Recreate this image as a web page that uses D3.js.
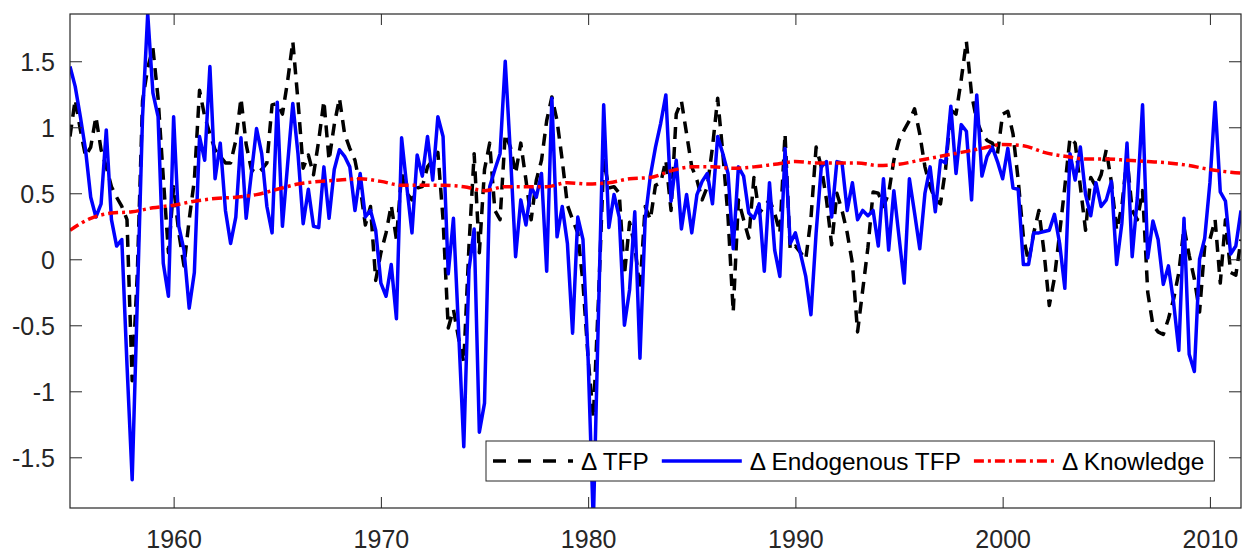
<!DOCTYPE html>
<html>
<head>
<meta charset="utf-8">
<script src="https://cdn.jsdelivr.net/npm/d3@7"></script>
<style>
  body { margin: 0; background: #fff; }
  text { font-family: "Liberation Sans", Arial, Helvetica, sans-serif; }
</style>
</head>
<body>
<script>
// quarterly series, first quarter = 1955.0
const startYear = 1955;
const quarterStep = 0.25;

const tfp = [
  0.93, 1.21, 0.98, 0.78, 0.85, 1.08, 0.83, 0.70, 0.55, 0.47,
  0.40, 0.30, -0.92, -0.10, 1.20, 1.45, 1.60, 1.22, 0.62, 0.05,
  0.55, 0.20, -0.05, 0.30, 0.60, 1.28, 1.08, 0.95, 0.83, 0.78,
  0.73, 0.73, 0.90, 1.22, 0.87, 0.68, 0.65, 0.68, 0.73, 1.17,
  1.18, 1.10, 1.35, 1.65, 1.20, 0.69, 0.79, 0.64, 0.90, 1.20,
  0.75, 1.02, 1.22, 0.95, 0.84, 0.75, 0.55, 0.26, 0.40, -0.16,
  0.05, 0.20, 0.41, 0.15, 0.65, 0.50, 0.45, 0.54, 0.55, 0.70,
  0.75, 0.81, 0.30, -0.52, -0.38, -0.60, -0.78, 0.10, 0.80, 0.05,
  0.68, 0.88, 0.37, 0.30, 0.95, 0.85, 0.65, 0.88, 0.60, 0.30,
  0.60, 0.75, 1.05, 1.23, 1.05, 0.75, 0.41, 0.30, 0.20, -0.18,
  -0.75, -1.20, -0.30, 0.75, 0.54, 0.55, 0.50, -0.12, 0.28, 0.10,
  -0.23, 0.40, 0.30, 0.56, 0.58, 0.75, 0.37, 1.10, 1.20, 0.95,
  0.70, 0.60, 0.45, 0.55, 0.85, 1.22, 0.80, 0.32, -0.40, 0.45,
  0.30, 0.16, 0.62, 0.35, 0.40, 0.45, 0.35, 0.20, 0.95, 0.07,
  0.10, 0.05, 0.00, 0.31, 0.85, 0.70, 0.45, 0.11, 0.50, 0.37,
  0.20, -0.03, -0.55, -0.23, 0.09, 0.51, 0.50, 0.40, 0.50, 0.75,
  0.90, 0.98, 1.05, 1.14, 0.95, 0.70, 0.55, 0.45, 0.42, 0.69,
  1.13, 1.10, 1.36, 1.65, 1.25, 1.05, 0.95, 0.90, 0.88, 0.80,
  1.10, 1.12, 0.95, 0.60, 0.17, -0.02, 0.20, 0.37, 0.05, -0.35,
  -0.14, 0.20, 0.55, 0.92, 0.88, 0.55, 0.22, 0.62, 0.55, 0.64,
  0.83, 0.58, 0.22, 0.40, 0.77, 0.37, 0.30, 0.52, -0.25, -0.50,
  -0.55, -0.57, -0.45, -0.30, -0.10, 0.24, 0.03, -0.15, -0.40, 0.10,
  0.15, 0.30, -0.18, 0.30, -0.10, -0.12, 0.15
];

const endoTFP = [
  1.46, 1.31, 1.08, 0.83, 0.47, 0.32, 0.42, 0.98, 0.30, 0.10,
  0.15, -0.80, -1.67, -0.30, 1.08, 1.86, 1.26, 1.08, -0.03, -0.28,
  1.08, 0.25, 0.07, -0.37, -0.10, 0.93, 0.75, 1.46, 0.61, 0.88,
  0.37, 0.12, 0.32, 0.92, 0.31, 0.65, 0.99, 0.80, 0.40, 0.20,
  1.19, 0.25, 0.72, 1.18, 0.80, 0.27, 0.53, 0.25, 0.24, 0.70,
  0.31, 0.68, 0.83, 0.78, 0.70, 0.37, 0.65, 0.32, 0.37, 0.22,
  -0.18, -0.28, -0.04, -0.45, 0.92, 0.55, 0.20, 0.79, 0.63, 0.93,
  0.60, 1.08, 0.93, -0.11, 0.31, -0.54, -1.42, -0.08, 0.23, -1.31,
  -1.09, 0.55, 0.68, 0.80, 1.50, 0.80, 0.02, 0.45, 0.26, 0.55,
  0.47, 0.65, -0.09, 1.22, 0.17, 0.40, 0.12, -0.56, 0.32, 0.15,
  -0.76, -2.00, -0.40, 1.17, 0.24, 0.49, 0.32, -0.50, -0.23, 0.36,
  -0.75, 0.30, 0.63, 0.85, 1.03, 1.245, 0.44, 0.75, 0.23, 0.49,
  0.20, 0.49, 0.59, 0.65, 0.42, 0.93, 0.80, 0.65, 0.08, 0.70,
  0.63, 0.35, 0.31, 0.42, -0.09, 0.58, 0.07, -0.13, 0.84, 0.12,
  0.20, 0.04, -0.13, -0.42, 0.20, 0.70, 0.74, 0.32, 0.74, 0.73,
  0.37, 0.58, 0.30, 0.37, 0.33, 0.37, 0.10, 0.61, 0.07, 0.52,
  0.17, -0.18, 0.61, 0.35, 0.08, 0.50, 0.70, 0.36, 0.75, 0.73,
  1.16, 0.65, 1.02, 0.97, 0.45, 1.245, 0.63, 0.78, 0.85, 0.74,
  0.61, 0.84, 0.54, 0.53, -0.04, -0.04, 0.20, 0.20, 0.21, 0.22,
  0.34, 0.12, -0.22, 0.80, 0.60, 0.85, 0.49, 0.33, 0.58, 0.40,
  0.45, 0.59, -0.04, 0.27, 0.88, 0.02, 0.47, 1.17, 0.01, 0.29,
  0.15, -0.19, -0.05, -0.33, -0.69, 0.31, -0.72, -0.85, 0.00, 0.16,
  0.58, 1.19, 0.51, 0.44, 0.04, 0.10, 0.37
];

// knowledge growth, read once per year (1955 ... 2012)
const knowledgeStart = 1955;
const knowledge = [
  0.22, 0.31, 0.35, 0.36, 0.39, 0.41, 0.44, 0.46, 0.47, 0.49,
  0.53, 0.57, 0.59, 0.60, 0.61, 0.59, 0.56, 0.56, 0.56, 0.55,
  0.52, 0.55, 0.55, 0.55, 0.58, 0.57, 0.58, 0.61, 0.62, 0.67,
  0.70, 0.70, 0.69, 0.70, 0.72, 0.74, 0.73, 0.73, 0.73, 0.71,
  0.72, 0.75, 0.78, 0.81, 0.84, 0.87, 0.86, 0.81, 0.78, 0.76,
  0.76, 0.75, 0.74, 0.73, 0.71, 0.68, 0.66, 0.65
];

const xTicks = [1960, 1970, 1980, 1990, 2000, 2010];
const yTicks = [-1.5, -1, -0.5, 0, 0.5, 1, 1.5];
const seriesNames = ["\u0394 TFP", "\u0394 Endogenous TFP", "\u0394 Knowledge"];

let width = 1244, height = 555;
let plotL = 70, plotR = 1241, plotT = 14, plotB = 508;
let axisColor = "#262626";
let fontSize = 25, legendFont = 24.4;

let x = d3.scaleLinear().domain([1955, 2011.5]).range([plotL, plotR]);
let y = d3.scaleLinear().domain([-1.884, 1.858]).range([plotB, plotT]);

let svg = d3.select("body").append("svg")
  .attr("width", width)
  .attr("height", height)
  .style("background", "#fff");

svg.append("clipPath").attr("id", "plotclip")
  .append("rect")
  .attr("x", plotL).attr("y", plotT)
  .attr("width", plotR - plotL).attr("height", plotB - plotT);

let styles = [
  { data: tfp, color: "#000000", dash: "12,8", legendDash: "13,12", x0: startYear, step: quarterStep, curve: d3.curveLinear },
  { data: endoTFP, color: "#0000ff", dash: null, legendDash: null, x0: startYear, step: quarterStep, curve: d3.curveLinear },
  { data: knowledge, color: "#ff0000", dash: "10,4,3,4", legendDash: "10,4,3,4", x0: knowledgeStart, step: 1, curve: d3.curveMonotoneX }
];

let plot = svg.append("g").attr("clip-path", "url(#plotclip)");

styles.forEach(s => {
  let line = d3.line()
    .x((d, i) => x(s.x0 + i * s.step))
    .y(d => y(d))
    .curve(s.curve);
  plot.append("path")
    .datum(s.data)
    .attr("d", line)
    .attr("fill", "none")
    .attr("stroke", s.color)
    .attr("stroke-width", 3.5)
    .attr("stroke-linejoin", "round")
    .attr("stroke-dasharray", s.dash);
});

// axes, MATLAB style: ticks inside, box all round
let xAxis = svg.append("g").attr("transform", "translate(0," + plotB + ")")
  .call(d3.axisBottom(x).tickValues(xTicks).tickFormat(d3.format("d"))
    .tickSizeInner(-11).tickSizeOuter(0).tickPadding(22));
let xTop = svg.append("g").attr("transform", "translate(0," + plotT + ")")
  .call(d3.axisTop(x).tickValues(xTicks).tickFormat("")
    .tickSizeInner(-11).tickSizeOuter(0));
let yAxis = svg.append("g").attr("transform", "translate(" + plotL + ",0)")
  .call(d3.axisLeft(y).tickValues(yTicks).tickFormat(d => String(d))
    .tickSizeInner(-12).tickSizeOuter(0).tickPadding(15));
let yRight = svg.append("g").attr("transform", "translate(" + plotR + ",0)")
  .call(d3.axisRight(y).tickValues(yTicks).tickFormat("")
    .tickSizeInner(-12).tickSizeOuter(0));

[xAxis, xTop, yAxis, yRight].forEach(g => {
  g.select(".domain").remove();
  g.selectAll("line").attr("stroke", axisColor).attr("stroke-width", 1);
  g.selectAll("text").attr("fill", axisColor).attr("font-size", fontSize)
    .attr("font-family", "Liberation Sans, Arial, sans-serif");
});
yAxis.selectAll("text").attr("dy", "0.35em");

svg.append("rect")
  .attr("x", plotL).attr("y", plotT)
  .attr("width", plotR - plotL).attr("height", plotB - plotT)
  .attr("fill", "none")
  .attr("stroke", axisColor)
  .attr("stroke-width", 1.2);

// legend
let legend = svg.append("g");
let legendBox = legend.append("rect")
  .attr("x", 486).attr("y", 441)
  .attr("height", 40)
  .attr("fill", "#fff")
  .attr("stroke", axisColor)
  .attr("stroke-width", 1);

let cx = 493, ly = 461;
styles.forEach((s, i) => {
  legend.append("line")
    .attr("x1", cx).attr("x2", cx + 80)
    .attr("y1", ly).attr("y2", ly)
    .attr("stroke", s.color)
    .attr("stroke-width", 3.5)
    .attr("stroke-dasharray", s.legendDash);
  let t = legend.append("text")
    .attr("x", cx + 88).attr("y", ly)
    .attr("dy", "0.35em")
    .attr("font-size", legendFont)
    .attr("fill", "#000")
    .text(seriesNames[i]);
  cx = cx + 88 + t.node().getComputedTextLength() + 13;
});
legendBox.attr("width", cx - 13 + 10 - 486);
</script>
</body>
</html>
